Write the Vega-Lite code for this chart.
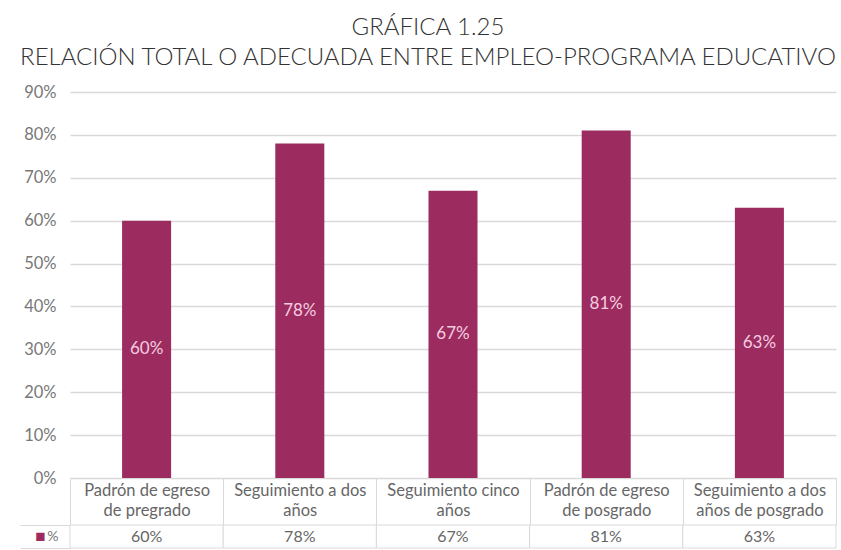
{
  "$schema": "https://vega.github.io/schema/vega-lite/v6.json",
  "background": "white",
  "padding": {"left": 18, "right": 5, "top": 16, "bottom": 2},
  "config": {"view": {"stroke": null}, "font": "Lato", "concat": {"spacing": 0}},
  "title": {
    "text": ["GRÁFICA 1.25", "RELACIÓN TOTAL O ADECUADA ENTRE EMPLEO-PROGRAMA EDUCATIVO"],
    "font": "Lato", "fontWeight": 300, "fontSize": 24, "lineHeight": 30,
    "color": "#333333", "anchor": "middle", "frame": "bounds", "offset": 14
  },
  "data": {"values": [
    {"cat": "Padrón de egreso|de pregrado", "v": 0.60, "serie": "%"},
    {"cat": "Seguimiento a dos|años", "v": 0.78, "serie": "%"},
    {"cat": "Seguimiento cinco|años", "v": 0.67, "serie": "%"},
    {"cat": "Padrón de egreso|de posgrado", "v": 0.81, "serie": "%"},
    {"cat": "Seguimiento a dos|años de posgrado", "v": 0.63, "serie": "%"}
  ]},
  "bounds": "flush",
  "spacing": 47,
  "vconcat": [
    {
      "width": 766, "height": 386,
      "encoding": {
        "x": {
          "field": "cat", "type": "nominal", "sort": null,
          "scale": {"paddingInner": 0, "paddingOuter": 0},
          "axis": {
            "title": null, "labelAngle": 0,
            "labelExpr": "isValid(datum.value) && datum.value != '' ? split(datum.value, '|') : ''",
            "labelFont": "Lato", "labelFontSize": 16.5, "labelColor": "#666666", "labelLineHeight": 20,
            "labelBaseline": "top",
            "domainColor": "#d9d9d9", "tickColor": "#d9d9d9", "tickBand": "extent", "tickSize": 47,
            "labelPadding": -43
          }
        }
      },
      "layer": [
        {
          "mark": {"type": "bar", "color": "#9c2b5f", "width": {"band": 0.32}},
          "encoding": {
            "y": {
              "field": "v", "type": "quantitative",
              "scale": {"domain": [0, 0.9]},
              "axis": {
                "title": null, "format": ".0%", "values": [0, 0.1, 0.2, 0.3, 0.4, 0.5, 0.6, 0.7, 0.8, 0.9],
                "domain": false, "ticks": false, "labelPadding": 14,
                "labelFont": "Lato", "labelFontSize": 16.5, "labelColor": "#777777",
                "gridColor": "#d9d9d9", "gridWidth": 1.5
              }
            }
          }
        },
        {
          "transform": [{"calculate": "datum.v / 2", "as": "mid"}],
          "mark": {"type": "text", "color": "#f5cde0", "fontSize": 17, "font": "Lato"},
          "encoding": {
            "y": {"field": "mid", "type": "quantitative"},
            "text": {"field": "v", "type": "quantitative", "format": ".0%"}
          }
        }
      ]
    },
    {
      "width": 766, "height": 23,
      "encoding": {
        "x": {"field": "cat", "type": "nominal", "sort": null, "scale": {"paddingInner": 0, "paddingOuter": 0}, "axis": null}
      },
      "layer": [
        {"mark": {"type": "rect", "fill": "white", "stroke": "#d9d9d9", "strokeWidth": 1}},
        {
          "mark": {"type": "text", "fontSize": 16, "color": "#666666", "font": "Lato"},
          "encoding": {
            "y": {
              "field": "serie", "type": "nominal",
              "scale": {"paddingInner": 0, "paddingOuter": 0},
              "axis": {
                "title": "■", "titleAngle": 0, "titleColor": "#9c2b5f", "titleFontSize": 17,
                "titleX": -25, "titleY": 11.5, "titleAlign": "right", "titleBaseline": "middle",
                "titleFontWeight": "normal",
                "domain": false, "tickBand": "extent", "tickSize": 50, "tickColor": "#d9d9d9",
                "labelPadding": -38, "labelFont": "Lato", "labelFontSize": 14, "labelColor": "#777777"
              }
            },
            "text": {"field": "v", "type": "quantitative", "format": ".0%"}
          }
        }
      ]
    }
  ]
}
